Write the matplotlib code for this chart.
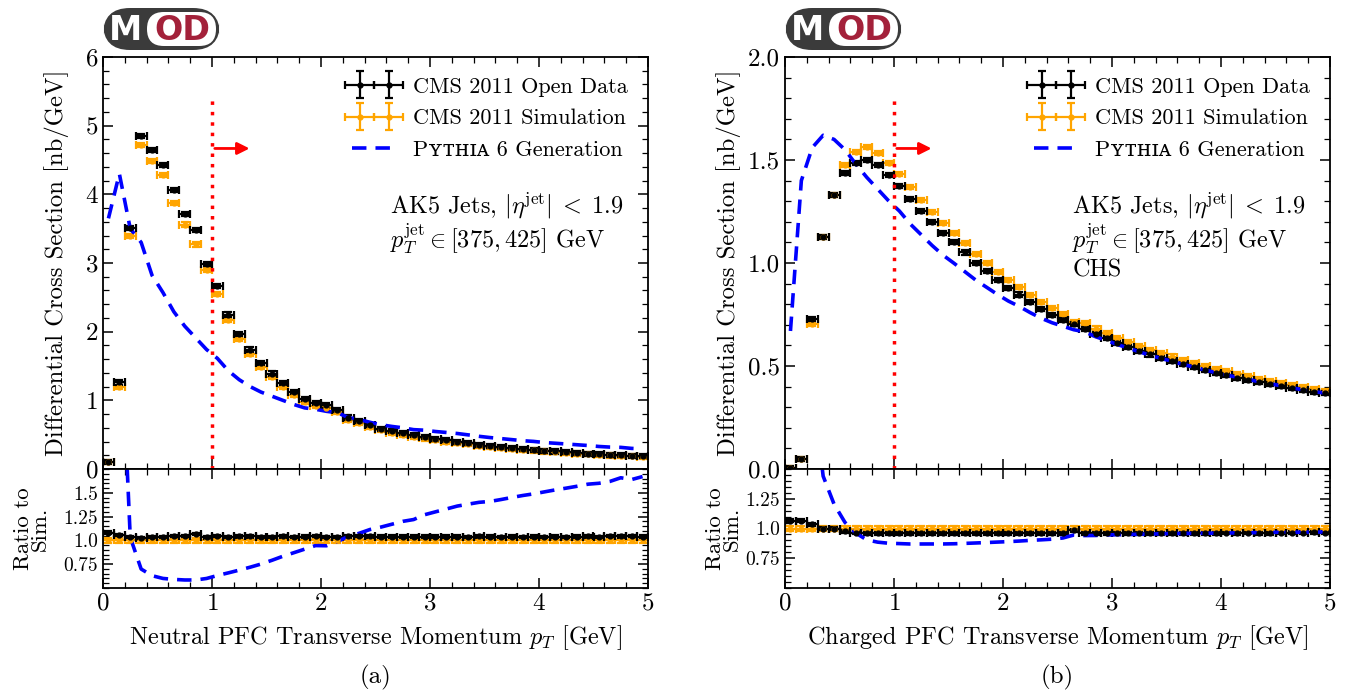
import matplotlib.pyplot as plt
import numpy as np
from matplotlib.patches import FancyBboxPatch
from matplotlib.ticker import MultipleLocator
from matplotlib.transforms import blended_transform_factory
from matplotlib.legend_handler import HandlerErrorbar

plt.rcParams['font.family'] = ['cmr10', 'DejaVu Serif']
plt.rcParams['mathtext.fontset'] = 'cm'
plt.rcParams['axes.unicode_minus'] = False
plt.rcParams['axes.formatter.use_mathtext'] = True

# 50 bins of 0.1 GeV from 0 to 5
edges = np.linspace(0, 5, 51)
centers = 0.5 * (edges[1:] + edges[:-1])

# (a) neutral PFCs
neutral_data = [0.105, 1.26, 3.51, 4.85, 4.64, 4.43, 4.06, 3.72, 3.48, 2.99,
                2.67, 2.25, 1.97, 1.74, 1.54, 1.39, 1.25, 1.12, 1.02, 0.96,
                0.925, 0.86, 0.75, 0.70, 0.635, 0.588, 0.551, 0.52, 0.489, 0.463,
                0.437, 0.416, 0.395, 0.374, 0.354, 0.338, 0.322, 0.307, 0.291, 0.281,
                0.265, 0.255, 0.244, 0.234, 0.224, 0.213, 0.206, 0.198, 0.191, 0.183]
neutral_sim = [0.097, 1.19, 3.39, 4.72, 4.48, 4.28, 3.88, 3.56, 3.27, 2.90,
               2.55, 2.17, 1.89, 1.67, 1.49, 1.34, 1.20, 1.08, 0.98, 0.92,
               0.89, 0.83, 0.72, 0.67, 0.61, 0.565, 0.53, 0.50, 0.47, 0.445,
               0.42, 0.40, 0.38, 0.36, 0.34, 0.325, 0.31, 0.295, 0.28, 0.27,
               0.255, 0.245, 0.235, 0.225, 0.215, 0.205, 0.197, 0.19, 0.183, 0.176]
neutral_pythia = [3.65, 4.30, 3.50, 3.30, 2.82, 2.57, 2.29, 2.08, 1.91, 1.74,
                  1.61, 1.43, 1.30, 1.20, 1.12, 1.06, 1.00, 0.94, 0.89, 0.87,
                  0.84, 0.82, 0.75, 0.72, 0.68, 0.644, 0.62, 0.60, 0.573, 0.565,
                  0.546, 0.532, 0.517, 0.497, 0.476, 0.458, 0.443, 0.428, 0.412, 0.402,
                  0.385, 0.375, 0.364, 0.353, 0.342, 0.328, 0.319, 0.315, 0.300, 0.294]

# (b) charged PFCs (CHS)
charged_data = [0.005, 0.05, 0.728, 1.125, 1.328, 1.437, 1.486, 1.50, 1.474, 1.426,
                1.375, 1.312, 1.254, 1.197, 1.145, 1.100, 1.051, 1.002, 0.960, 0.918,
                0.879, 0.847, 0.809, 0.777, 0.749, 0.723, 0.704, 0.680, 0.655, 0.634,
                0.612, 0.593, 0.574, 0.556, 0.540, 0.524, 0.509, 0.495, 0.481, 0.468,
                0.456, 0.444, 0.433, 0.422, 0.411, 0.401, 0.392, 0.383, 0.375, 0.367]
charged_sim = [0.0047, 0.047, 0.703, 1.125, 1.328, 1.474, 1.54, 1.565, 1.535, 1.486,
               1.434, 1.367, 1.307, 1.247, 1.193, 1.146, 1.095, 1.044, 1.0, 0.956,
               0.916, 0.882, 0.843, 0.809, 0.780, 0.753, 0.715, 0.708, 0.682, 0.660,
               0.637, 0.618, 0.598, 0.579, 0.562, 0.546, 0.530, 0.516, 0.501, 0.487,
               0.474, 0.462, 0.450, 0.439, 0.428, 0.417, 0.407, 0.397, 0.388, 0.380]
charged_pythia = [0.67, 1.40, 1.56, 1.62, 1.60, 1.55, 1.48, 1.416, 1.359, 1.302,
                  1.252, 1.189, 1.137, 1.085, 1.038, 0.999, 0.958, 0.917, 0.882, 0.847,
                  0.815, 0.789, 0.759, 0.732, 0.710, 0.693, 0.676, 0.666, 0.642, 0.624,
                  0.604, 0.587, 0.569, 0.552, 0.537, 0.523, 0.508, 0.495, 0.481, 0.468,
                  0.456, 0.445, 0.434, 0.424, 0.414, 0.404, 0.394, 0.385, 0.376, 0.369]

BLACK = 'black'
ORANGE = '#ffa500'
BLUE = '#0000ff'

fig = plt.figure(figsize=(13.45, 6.9), dpi=100)
W, H = 1345, 690


def ax_rect(x0, x1, y0, y1):
    return [x0 / W, 1 - y1 / H, (x1 - x0) / W, (y1 - y0) / H]


def style(ax, xminor, yminor, labelsize):
    ax.tick_params(which='both', direction='in', top=True, right=True, labelsize=labelsize)
    ax.tick_params(which='major', length=7, width=1.1)
    ax.tick_params(which='minor', length=4, width=0.9)
    ax.xaxis.set_minor_locator(MultipleLocator(xminor))
    ax.yaxis.set_minor_locator(MultipleLocator(yminor))
    for s in ax.spines.values():
        s.set_linewidth(1.3)


def logo(x0, y0):
    fig.patches.append(FancyBboxPatch((x0 / W, 1 - (y0 + 42) / H), 117 / W, 42 / H,
                                      boxstyle='round,pad=0,rounding_size=0.02',
                                      transform=fig.transFigure, fc='#3b3b3b', ec='none',
                                      mutation_aspect=W / H))
    fig.patches.append(FancyBboxPatch(((x0 + 44) / W, 1 - (y0 + 38) / H), 69 / W, 34 / H,
                                      boxstyle='round,pad=0,rounding_size=0.0125',
                                      transform=fig.transFigure, fc='white', ec='none',
                                      mutation_aspect=W / H))
    fig.text((x0 + 23) / W, 1 - (y0 + 22) / H, 'M', color='white', fontsize=24,
             fontweight='bold', family='DejaVu Sans', ha='center', va='center')
    fig.text((x0 + 79) / W, 1 - (y0 + 22) / H, 'OD', color='#a3213a', fontsize=24,
             fontweight='bold', family='DejaVu Sans', ha='center', va='center')


def panel(x0, x1, data, sim, pythia, ymax, ymajor, yminor, yfmt, rlim, rticks,
          xlabel, caption, extra, ylab_x, rlab_x):
    ax = fig.add_axes(ax_rect(x0, x1, 57, 469))
    rax = fig.add_axes(ax_rect(x0, x1, 469, 588), sharex=ax)

    ebs = dict(xerr=0.05, fmt='o', ms=3.5, capsize=3, elinewidth=1.6, capthick=1.6)
    hs = ax.errorbar(centers, sim, yerr=0.01 * ymax / 2, color=ORANGE, **ebs)
    hd = ax.errorbar(centers, data, yerr=0.01 * ymax / 2, color=BLACK, **ebs)
    hp, = ax.plot(centers, pythia, color=BLUE, lw=2.6, ls=(0, (4, 2.5)))

    ax.axvline(1.0, ymax=0.9, color='red', lw=2.5, ls=(0, (1, 2)))
    tr = blended_transform_factory(ax.transData, ax.transAxes)
    ax.annotate('', xy=(1.37, 0.778), xytext=(1.0, 0.778), xycoords=tr, textcoords=tr,
                arrowprops=dict(arrowstyle='-|>', color='red', lw=2, mutation_scale=18))

    ax.set_xlim(0, 5)
    ax.set_ylim(0, ymax)
    ax.yaxis.set_major_locator(MultipleLocator(ymajor))
    ax.yaxis.set_major_formatter(plt.FormatStrFormatter(yfmt))
    style(ax, 0.2, yminor, 18)
    ax.tick_params(labelbottom=False)
    ax.set_ylabel('Differential Cross Section [nb/GeV]', fontsize=17.8)
    ax.yaxis.set_label_coords(ylab_x, 0.5)

    eh = HandlerErrorbar(xerr_size=0.65, yerr_size=0.6, marker_pad=0.65, numpoints=2)
    leg = ax.legend([hd, hs, hp],
                    ['CMS 2011 Open Data', 'CMS 2011 Simulation',
                     'P\u028f\u1d1b\u029c\u026a\u1d00 6 Generation'],
                    handler_map={hd: eh, hs: eh},
                    loc='upper right', frameon=False, fontsize=16, numpoints=2,
                    handlelength=2.6, handletextpad=0.45, borderaxespad=0.5,
                    labelspacing=0.55)
    for t in leg.get_texts():
        t.set_family(['cmr10', 'DejaVu Serif'])

    lines = [r'AK5 Jets, $|\eta^{\rm jet}| \; < \; 1.9$',
             r'$p_T^{\rm jet} \in [375, 425]$ GeV'] + extra
    for i, s in enumerate(lines):
        ax.text(0.527, 0.638 - i * 0.078, s, transform=ax.transAxes, fontsize=17.5,
                va='center', ha='left')

    # ratio panel
    rebs = dict(xerr=0.05, fmt='o', ms=3.5, capsize=3, elinewidth=1.6, capthick=1.6)
    sim_a = np.array(sim)
    rax.errorbar(centers, sim_a / sim_a, yerr=0.025, color=ORANGE, **rebs)
    rax.errorbar(centers, np.array(data) / sim_a, yerr=0.012, color=BLACK, **rebs)
    rax.plot(centers, np.array(pythia) / sim_a, color=BLUE, lw=2.6, ls=(0, (4, 2.5)))
    rax.set_ylim(*rlim)
    rax.set_yticks(rticks)
    rax.set_yticklabels([('%.2f' % v).rstrip('0') if v % 0.5 else '%.1f' % v for v in rticks])
    style(rax, 0.2, 0.05, 18)
    rax.tick_params(axis='y', labelsize=14)
    rax.set_xlim(0, 5)
    rax.set_xticks([0, 1, 2, 3, 4, 5])
    rax.set_ylabel('Ratio to\nSim.', fontsize=16.5, linespacing=0.85)
    rax.yaxis.set_label_coords(rlab_x, 0.5)
    rax.set_xlabel(xlabel, fontsize=17.5, labelpad=6)
    fig.text((x0 + x1) / 2 / W, 1 - 677 / H, caption, fontsize=18, ha='center', va='center')


panel(103, 648, neutral_data, neutral_sim, neutral_pythia, 6, 1, 0.2, '%d',
      (0.5, 1.75), [0.75, 1.0, 1.25, 1.5],
      r'Neutral PFC Transverse Momentum $p_T$ [GeV]', '(a)', [], -0.062, -0.097)
panel(785, 1330, charged_data, charged_sim, charged_pythia, 2.0, 0.5, 0.1, '%.1f',
      (0.5, 1.5), [0.75, 1.0, 1.25],
      r'Charged PFC Transverse Momentum $p_T$ [GeV]', '(b)', ['CHS'], -0.081, -0.079)

logo(103, 8)
logo(785, 8)

fig.savefig('out.png', dpi=100)
